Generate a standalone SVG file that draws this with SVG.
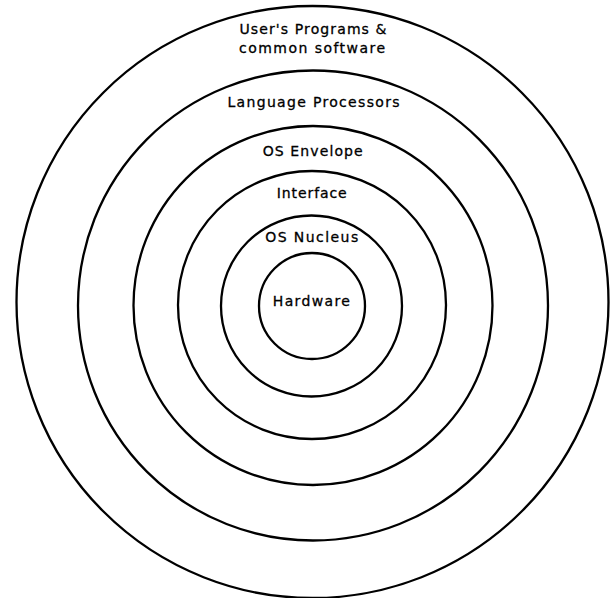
<svg xmlns="http://www.w3.org/2000/svg" width="615" height="598" viewBox="0 0 615 598">
<style>
.ring{fill:none;stroke:#000;stroke-width:2.3}
.lbl{font-family:"DejaVu Sans","Liberation Sans",Arial,sans-serif;font-size:14px;fill:#000;stroke:#000;stroke-width:0.3;text-anchor:middle}
</style>
<rect width="615" height="598" fill="#fff"/>
<g id="user-programs">
<circle class="ring" cx="312.5" cy="302" r="296"/>
<text class="lbl" x="313" y="33.5" textLength="147" lengthAdjust="spacing">User's Programs &amp;</text>
<text class="lbl" x="312" y="52.7" textLength="146" lengthAdjust="spacing">common software</text>
</g>
<g id="language-processors">
<circle class="ring" cx="313" cy="305.5" r="235"/>
<text class="lbl" x="313.5" y="106.7" textLength="172" lengthAdjust="spacing">Language Processors</text>
</g>
<g id="os-envelope">
<circle class="ring" cx="313" cy="305.5" r="179.5"/>
<text class="lbl" x="312.7" y="155.7" textLength="100" lengthAdjust="spacing">OS Envelope</text>
</g>
<g id="interface">
<circle class="ring" cx="312" cy="305" r="134"/>
<text class="lbl" x="311.7" y="197.7" textLength="70" lengthAdjust="spacing">Interface</text>
</g>
<g id="os-nucleus">
<circle class="ring" cx="311.5" cy="306" r="90.5"/>
<text class="lbl" x="311.7" y="242.3" textLength="93" lengthAdjust="spacing">OS Nucleus</text>
</g>
<g id="hardware">
<circle class="ring" cx="312" cy="306" r="53"/>
<text class="lbl" x="311.3" y="306" textLength="77" lengthAdjust="spacing">Hardware</text>
</g>
</svg>
